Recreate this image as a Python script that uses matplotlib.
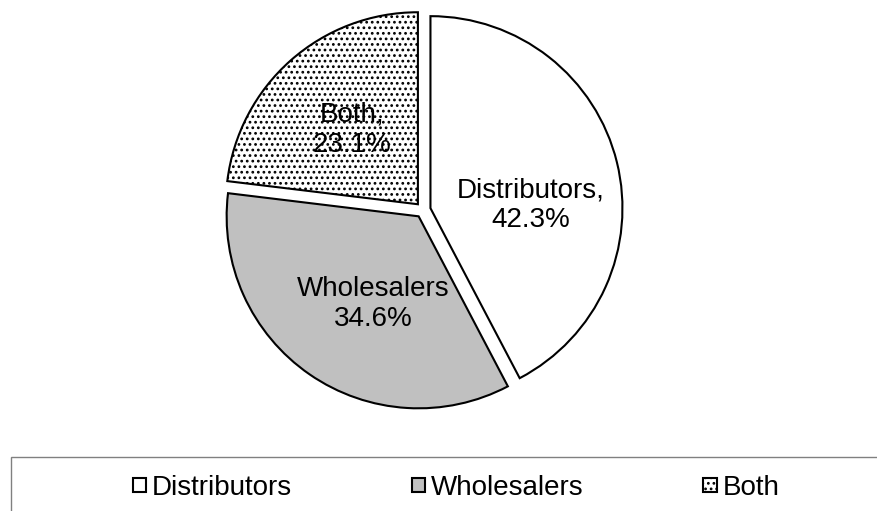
import matplotlib
matplotlib.use("Agg")
import matplotlib.pyplot as plt
from matplotlib.patches import Rectangle

plt.rcParams['font.family'] = ['Liberation Sans', 'DejaVu Sans']
plt.rcParams['hatch.linewidth'] = 1.2

# data
categories = ['Distributors', 'Wholesalers', 'Both']
counts = [11, 9, 6]
shares = [42.3, 34.6, 23.1]
fills = ['white', '#c0c0c0', 'white']
hatches = ['', '', '...']

W, H = 878, 511
R = 192.0  # pie radius in px, one data unit

fig = plt.figure(figsize=(W / 100, H / 100), dpi=100)
ax = fig.add_axes([0, 0, 1, 1])

labels = [f"{c},\n{s:.1f}%" if c != 'Wholesalers' else f"{c}\n{s:.1f}%"
          for c, s in zip(categories, shares)]

wedges, texts = ax.pie(counts, explode=[0.04] * 3, radius=1.0,
                       center=(423 / R, (H - 210) / R),
                       startangle=90, counterclock=False,
                       colors=fills, hatch=hatches, labels=labels,
                       labeldistance=0.52,
                       wedgeprops=dict(edgecolor='black', linewidth=1.5),
                       textprops=dict(fontsize=20, color='black'))

# small nudges of the data labels (px, image y down)
nudges = [(3, 21), (11, 6), (0, 0)]
for t, (dx, dy) in zip(texts, nudges):
    x, y = t.get_position()
    t.set_position((x + dx / R, y - dy / R))
    t.set_ha('center')
    t.set_va('center')
    t.set_multialignment('center')

ax.set_xlim(0, W / R)
ax.set_ylim(0, H / R)
ax.set_aspect('equal')
ax.axis('off')

# legend frame, running past the right and bottom edges
ax.add_patch(Rectangle((11 / R, -20 / R), 1000 / R, (H - 457 + 20) / R,
                       facecolor='none', edgecolor='#808080', linewidth=1.0))

leg = ax.legend(wedges, categories, loc='center', ncol=3, frameon=False,
                bbox_to_anchor=(456 / W, 23 / H), bbox_transform=fig.transFigure,
                fontsize=20, handlelength=0.5, handleheight=0.4,
                handletextpad=0.2, columnspacing=4.3, borderpad=0)
for h in leg.legend_handles:
    h.set_linewidth(1.5)

fig.savefig('out.png', dpi=100)
